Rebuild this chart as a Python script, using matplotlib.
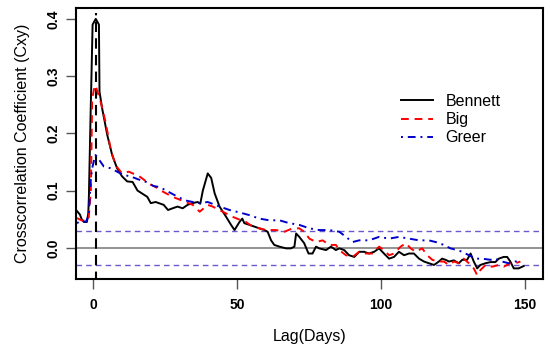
import numpy as np
import matplotlib.pyplot as plt

plt.rcParams['font.family'] = ['Liberation Sans', 'DejaVu Sans']

# Bennett (black, solid)
bennett_lag = [-5.5, -4.5, -3.9, -3.1, -2.1, -1.6, -1.4, -0.8, -0.45, -0.1, 1.0, 2.1, 2.3, 3.2,
               5.0, 6.7, 8.4, 10.1, 11.9, 13.8, 15.5, 18.9, 20.1, 21.8, 24.6, 26.1, 27.7, 29.4,
               31.2, 32.9, 34.6, 36.4, 37.3, 38.2, 39.9, 41.1, 42.3, 44.0, 46.3, 48.0, 49.2,
               50.9, 51.9, 52.6, 54.4, 56.1, 57.8, 59.6, 60.7, 61.9, 63.0, 64.8, 67.1, 68.8,
               70.0, 70.6, 71.7, 73.4, 74.9, 76.3, 77.5, 78.6, 81.0, 82.7, 84.4, 85.6, 87.3,
               89.0, 90.8, 92.5, 94.2, 95.9, 97.7, 99.4, 101.1, 102.9, 104.6, 106.3, 108.1,
               109.8, 111.5, 113.3, 115.0, 116.7, 118.5, 120.2, 121.3, 122.5, 123.7, 125.4,
               127.1, 128.3, 130.0, 131.2, 132.3, 133.5, 134.6, 136.4, 138.1, 139.8, 141.0,
               142.7, 143.9, 145.0, 146.2, 147.9, 149.6]
bennett = [0.064, 0.058, 0.050, 0.045, 0.045, 0.060, 0.087, 0.232, 0.310, 0.390, 0.400, 0.390,
           0.273, 0.244, 0.197, 0.162, 0.139, 0.125, 0.116, 0.115, 0.100, 0.089, 0.078, 0.080,
           0.075, 0.066, 0.069, 0.072, 0.069, 0.075, 0.078, 0.080, 0.077, 0.100, 0.130, 0.122,
           0.095, 0.072, 0.054, 0.040, 0.031, 0.045, 0.051, 0.043, 0.040, 0.037, 0.034, 0.031,
           0.028, 0.013, 0.005, 0.002, -0.001, -0.001, 0.002, 0.025, 0.019, 0.008, -0.010,
           -0.010, 0.002, -0.001, -0.004, 0.002, -0.004, -0.001, -0.004, -0.013, -0.016,
           -0.007, -0.007, -0.010, -0.007, -0.001, -0.010, -0.019, -0.016, -0.007, -0.013,
           -0.010, -0.010, -0.019, -0.024, -0.027, -0.030, -0.024, -0.019, -0.021, -0.024,
           -0.022, -0.027, -0.021, -0.021, -0.010, -0.024, -0.036, -0.030, -0.027, -0.025,
           -0.025, -0.019, -0.016, -0.016, -0.024, -0.036, -0.036, -0.032]

# Big (red, dashed)
big_lag = [-5.5, -4.0, -2.5, -1.5, -0.7, -0.25, 0.5, 0.9, 2.7, 4.4, 6.1, 7.8, 10.1, 12.5, 13.8,
           15.5, 17.2, 19.5, 21.8, 23.6, 27.7, 34.7, 37.1, 39.9, 41.6, 45.1, 48.6, 51.5, 53.2,
           55.5, 57.8, 60.2, 63.6, 66.5, 69.4, 71.7, 73.4, 75.2, 77.5, 79.8, 82.1, 84.4,
           85.6, 87.9, 90.2, 92.5, 94.8, 97.1, 99.4, 101.1, 102.9, 104.6, 106.9, 108.7, 110.4,
           112.1, 114.4, 116.1, 117.9, 119.6, 121.9, 123.7, 125.4, 127.1, 128.8, 130.6, 132.3,
           133.5, 134.6, 136.4, 138.7, 141.0, 142.7, 145.0, 146.8, 148.5]
big = [0.052, 0.048, 0.047, 0.050, 0.100, 0.260, 0.280, 0.284, 0.255, 0.220, 0.174, 0.145,
       0.130, 0.133, 0.130, 0.127, 0.121, 0.112, 0.106, 0.100, 0.089, 0.075, 0.063, 0.075,
       0.072, 0.063, 0.054, 0.048, 0.045, 0.037, 0.034, 0.031, 0.031, 0.028, 0.034, 0.034,
       0.028, 0.016, 0.010, 0.013, 0.005, 0.005, -0.004, -0.013, -0.016, -0.007, -0.010,
       -0.010, 0.002, -0.004, -0.013, -0.010, 0.002, 0.008, -0.001, -0.007, -0.001, -0.013,
       -0.021, -0.024, -0.024, -0.030, -0.024, -0.027, -0.019, -0.027, -0.036, -0.048,
       -0.039, -0.030, -0.033, -0.030, -0.033, -0.027, -0.027, -0.024]

# Greer (blue, dot-dash)
greer_lag = [-5.5, -4.0, -2.5, -1.5, -0.7, -0.2, 0.5, 0.9, 2.0, 3.8, 6.1, 8.4, 10.7, 13.0, 15.5,
             18.5, 21.0, 23.2, 28.4, 31.9, 34.7, 37.1, 39.9, 44.0, 47.5, 51.5, 54.4, 57.8,
             61.3, 64.8, 68.2, 71.7, 75.2, 78.6, 82.1, 85.6, 87.9, 90.2, 92.5, 95.9, 99.4,
             102.9, 106.3, 109.8, 113.3, 116.7, 119.1, 121.9, 124.2, 126.5, 128.3, 130.6,
             132.9, 135.2, 138.1, 139.8, 142.1, 144.4, 146.8, 148.5]
greer = [0.043, 0.048, 0.045, 0.055, 0.120, 0.140, 0.155, 0.162, 0.155, 0.142, 0.139, 0.133,
         0.127, 0.125, 0.120, 0.115, 0.108, 0.106, 0.092, 0.083, 0.080, 0.078, 0.080, 0.072,
         0.066, 0.061, 0.057, 0.051, 0.048, 0.048, 0.043, 0.040, 0.034, 0.031, 0.031, 0.028,
         0.019, 0.010, 0.013, 0.013, 0.019, 0.016, 0.019, 0.016, 0.013, 0.013, 0.010, 0.005,
         -0.001, -0.004, -0.007, -0.013, -0.019, -0.019, -0.021, -0.019, -0.024, -0.027,
         -0.024, -0.021]

conf_limit = 0.03
peak_lag = 1
peak_top = 0.41

fig = plt.figure(figsize=(5.5, 3.55), dpi=100)
ax = fig.add_axes([0.138, 0.214, 0.849, 0.763])

ax.axhline(0, color='#808080', lw=1.2)
ax.axhline(conf_limit, color='#6a5acd', lw=1, ls=(0, (4, 3)))
ax.axhline(-conf_limit, color='#6a5acd', lw=1, ls=(0, (4, 3)))
ax.vlines(peak_lag, -0.06, peak_top, color='black', lw=1.5, ls=(0, (5, 3)))

ax.plot(bennett_lag, bennett, color='black', lw=1.4, label='Bennett')
ax.plot(big_lag, big, color='red', lw=1.4, ls=(0, (4, 3)), label='Big')
ax.plot(greer_lag, greer, color='#0000cc', lw=1.4, ls=(0, (1, 2.5, 4, 2.5)), label='Greer')

ax.set_xlim(-5.9, 156.3)
ax.set_ylim(-0.0546, 0.4187)
ax.set_xticks([0, 50, 100, 150])
ax.set_yticks([0.0, 0.1, 0.2, 0.3, 0.4])
ax.set_yticklabels(['0.0', '0.1', '0.2', '0.3', '0.4'], rotation=90, va='center')
ax.tick_params(axis='both', length=7, width=1, color='#555555', labelsize=10)
ax.tick_params(axis='x', pad=7)
ax.tick_params(axis='y', pad=4)
for lab in ax.get_xticklabels() + ax.get_yticklabels():
    lab.set_fontweight('bold')
for s in ax.spines.values():
    s.set_linewidth(1.5)

ax.set_xlabel('Lag(Days)', fontsize=11.5, labelpad=12)
ax.set_ylabel('Crosscorrelation Coefficient (Cxy)', fontsize=11.5, labelpad=12)

ax.legend(loc='upper left', bbox_to_anchor=(393 / 550, 1 - 86 / 355),
          bbox_transform=fig.transFigure, frameon=False, fontsize=11.5,
          handlelength=2.0, handletextpad=0.8, labelspacing=0.2, borderpad=0)

fig.savefig('out.png', dpi=100)
